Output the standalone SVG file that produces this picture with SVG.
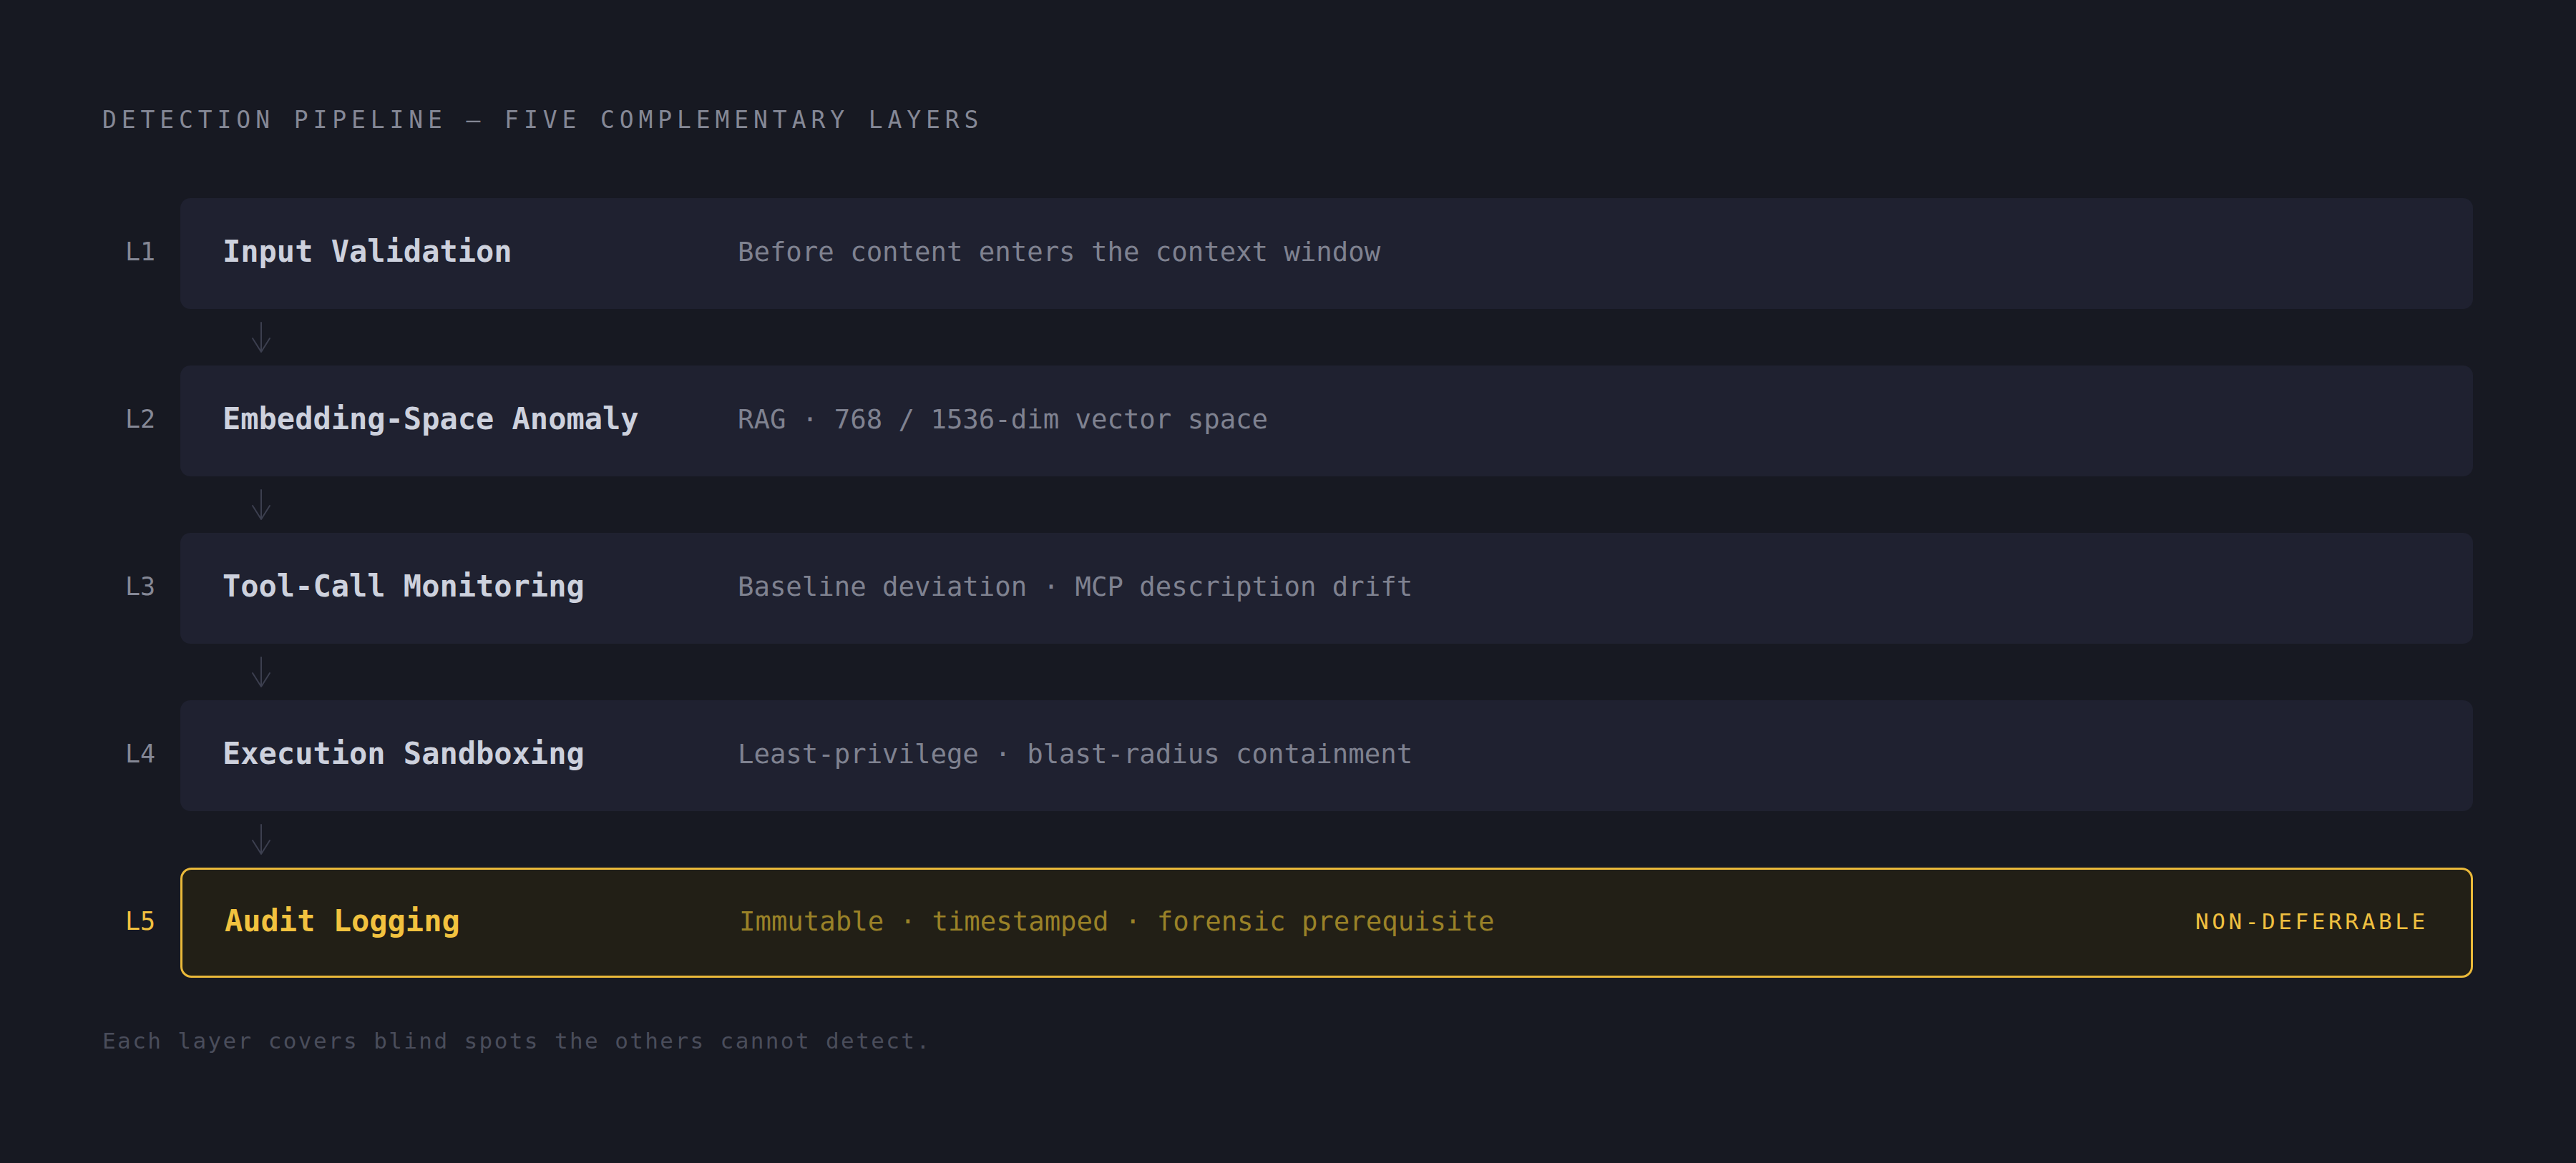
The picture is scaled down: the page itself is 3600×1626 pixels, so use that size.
<svg xmlns="http://www.w3.org/2000/svg" width="3600" height="1626" viewBox="0 0 3600 1626">
<style>
  .mono { font-family: "DejaVu Sans Mono", "Liberation Mono", monospace; }
  .heading { font-size: 33px; fill: #858896; letter-spacing: 6.9px; }
  .lnum { font-size: 35px; fill: #858896; }
  .box { fill: #1f2130; }
  .name { font-size: 42px; font-weight: bold; fill: #cdd1dd; }
  .desc { font-size: 37.3px; fill: #7f8290; }
  .hl-box { fill: #221f16; stroke: #eab93a; stroke-width: 3; }
  .hl-num { font-size: 35px; fill: #f0c040; }
  .hl-name { font-size: 42px; font-weight: bold; fill: #f2c23f; }
  .hl-desc { font-size: 37.3px; fill: #9a8228; }
  .tag { font-size: 31px; fill: #f0c040; letter-spacing: 4.6px; }
  .foot { font-size: 31px; fill: #4a4d5b; letter-spacing: 2.4px; }
  .conn { fill: none; stroke: #3c3f4f; stroke-width: 2; stroke-linecap: round; stroke-linejoin: round; }
</style>
<rect x="0" y="0" width="3600" height="1626" fill="#171922"/>

<text class="mono heading" x="143" y="179">DETECTION PIPELINE — FIVE COMPLEMENTARY LAYERS</text>

<g id="connectors">
  <path class="conn" d="M365 451 V491 M353 473 L365 492 L377 473"/>
  <path class="conn" d="M365 685 V725 M353 707 L365 726 L377 707"/>
  <path class="conn" d="M365 919 V959 M353 941 L365 960 L377 941"/>
  <path class="conn" d="M365 1153 V1193 M353 1175 L365 1194 L377 1175"/>
</g>

<g id="layer-l1">
  <text class="mono lnum" x="175" y="364">L1</text>
  <rect class="box" x="252" y="277" width="3204" height="155" rx="14"/>
  <text class="mono name" x="311" y="366">Input Validation</text>
  <text class="mono desc" x="1031" y="365">Before content enters the context window</text>
</g>

<g id="layer-l2">
  <text class="mono lnum" x="175" y="598">L2</text>
  <rect class="box" x="252" y="511" width="3204" height="155" rx="14"/>
  <text class="mono name" x="311" y="600">Embedding-Space Anomaly</text>
  <text class="mono desc" x="1031" y="599">RAG · 768 / 1536-dim vector space</text>
</g>

<g id="layer-l3">
  <text class="mono lnum" x="175" y="832">L3</text>
  <rect class="box" x="252" y="745" width="3204" height="155" rx="14"/>
  <text class="mono name" x="311" y="834">Tool-Call Monitoring</text>
  <text class="mono desc" x="1031" y="833">Baseline deviation · MCP description drift</text>
</g>

<g id="layer-l4">
  <text class="mono lnum" x="175" y="1066">L4</text>
  <rect class="box" x="252" y="979" width="3204" height="155" rx="14"/>
  <text class="mono name" x="311" y="1068">Execution Sandboxing</text>
  <text class="mono desc" x="1031" y="1067">Least-privilege · blast-radius containment</text>
</g>

<g id="layer-l5">
  <text class="mono hl-num" x="175" y="1300">L5</text>
  <rect class="hl-box" x="253.5" y="1214.5" width="3201" height="151" rx="14"/>
  <text class="mono hl-name" x="314" y="1302">Audit Logging</text>
  <text class="mono hl-desc" x="1033" y="1301">Immutable · timestamped · forensic prerequisite</text>
  <text class="mono tag" x="3068" y="1299">NON-DEFERRABLE</text>
</g>

<text class="mono foot" x="143" y="1466">Each layer covers blind spots the others cannot detect.</text>
</svg>
